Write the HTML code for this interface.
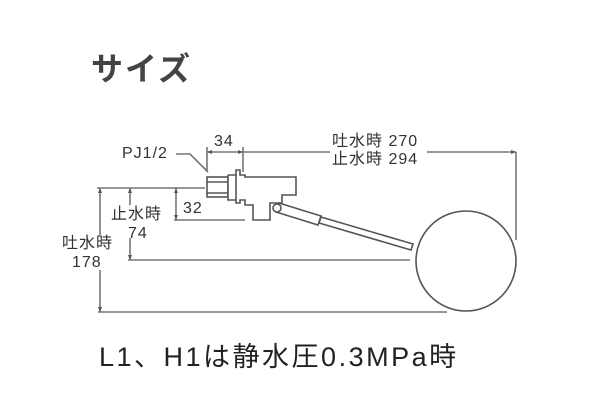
<!DOCTYPE html>
<html><head><meta charset="utf-8"><style>
html,body{margin:0;padding:0;background:#fff;}
svg{display:block;}
</style></head><body>
<svg width="600" height="400" viewBox="0 0 600 400" xmlns="http://www.w3.org/2000/svg">
<rect width="600" height="400" fill="#fff"/>
<text x="91" y="80" font-family="'Liberation Sans','Noto Sans CJK JP',sans-serif" font-size="32" font-weight="bold" fill="#444" letter-spacing="2">サイズ</text>
<g stroke="#777" stroke-width="1.6" fill="none">
 <line x1="207" y1="152" x2="330" y2="152"/>
 <line x1="427" y1="152" x2="516" y2="152"/>
 <line x1="207" y1="147" x2="207" y2="172"/>
 <line x1="243" y1="147" x2="243" y2="172"/>
 <line x1="516" y1="152" x2="516" y2="240"/>
 <polyline points="176,154 190,154 208,172"/>
 <line x1="97" y1="188" x2="205" y2="188"/>
 <line x1="174" y1="220" x2="245" y2="220"/>
 <line x1="128" y1="260" x2="410" y2="260"/>
 <line x1="98" y1="312" x2="447" y2="312"/>
 <line x1="176" y1="188" x2="176" y2="220"/>
 <line x1="130" y1="188" x2="130" y2="205"/>
 <line x1="130" y1="238" x2="130" y2="260"/>
 <line x1="100" y1="188" x2="100" y2="235"/>
 <line x1="100" y1="270" x2="100" y2="312"/>
</g>
<g fill="#555">
 <polygon points="207,152 212,150 212,154"/>
 <polygon points="243,152 238,150 238,154"/>
 <polygon points="516,152 511,150 511,154"/>
 <polygon points="176,188 174,193 178,193"/>
 <polygon points="176,220 174,215 178,215"/>
 <polygon points="130,188 128,193 132,193"/>
 <polygon points="130,260 128,255 132,255"/>
 <polygon points="100,188 98,193 102,193"/>
 <polygon points="100,312 98,307 102,307"/>
</g>
<g stroke="#555" stroke-width="1.6" fill="#fff">
 <rect x="207" y="177" width="21" height="20"/>
 <line x1="207" y1="182" x2="228" y2="182"/>
 <line x1="207" y1="193" x2="228" y2="193"/>
 <polyline points="228,175 236,175 236,170 240,170 240,175 245,175 245,177 296,177 296,195 282,195 282,203 270,203 270,220 253,220 253,205 245,205 245,200 240,200 240,203 236,203 236,200 228,200 228,175"/>
 <line x1="236" y1="175" x2="236" y2="200"/>
 <polygon points="279,203 321,216 318,225 276,212"/>
 <polygon points="321,217 413,244 411,250 319,223"/>
 <circle cx="277" cy="208" r="4"/>
 <circle cx="466" cy="261" r="50"/>
</g>
<g font-family="'Liberation Sans','Noto Sans CJK JP',sans-serif" font-size="16" fill="#333" letter-spacing="1">
 <text x="122" y="158">PJ1/2</text>
 <text x="214" y="146">34</text>
 <text x="332" y="146">吐水時 270</text>
 <text x="332" y="164">止水時 294</text>
 <text x="183" y="213">32</text>
 <text x="111" y="219">止水時</text>
 <text x="128" y="238">74</text>
 <text x="62" y="248">吐水時</text>
 <text x="72" y="267">178</text>
</g>
<text x="99" y="366" font-family="'Liberation Sans','Noto Sans CJK JP',sans-serif" font-size="27" fill="#222" letter-spacing="2.5">L1、H1は静水圧0.3MPa時</text>
</svg>
</body></html>
